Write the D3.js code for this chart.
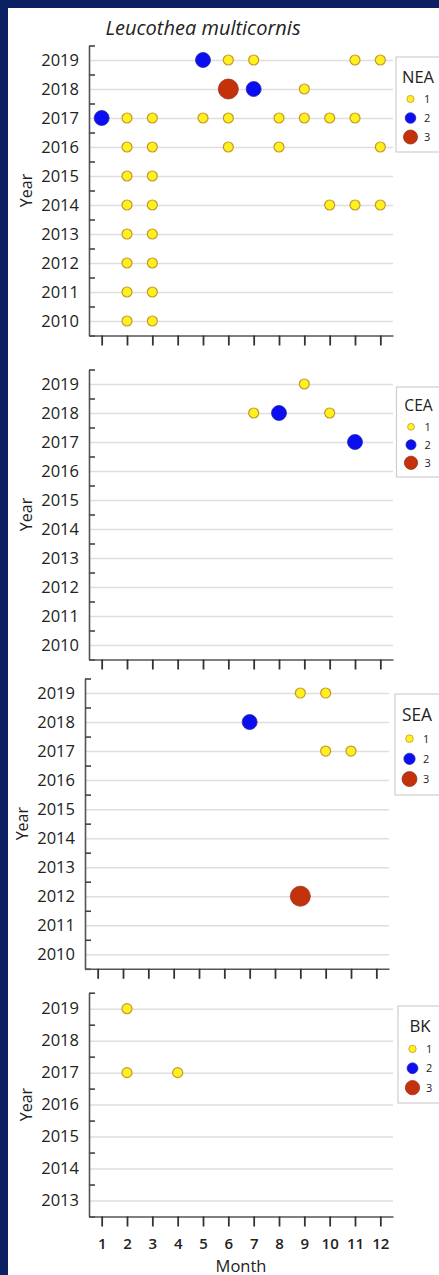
<!DOCTYPE html>
<html>
<head>
<meta charset="utf-8">
<script src="https://cdn.jsdelivr.net/npm/d3@7"></script>
<style>
  body { margin: 0; background: #0b2163; }
  svg { display: block; font-family: "Open Sans", "DejaVu Sans", sans-serif; }
</style>
</head>
<body>
<svg id="viz" width="439" height="1275"></svg>
<script>
const title = "Leucothea multicornis";
const months = [1, 2, 3, 4, 5, 6, 7, 8, 9, 10, 11, 12];
const countLevels = [1, 2, 3];
const yearsLong = [2010, 2011, 2012, 2013, 2014, 2015, 2016, 2017, 2018, 2019];
const yearsShort = [2013, 2014, 2015, 2016, 2017, 2018, 2019];

// month, year, number of records
const neaPoints = [
  [5, 2019, 2], [6, 2019, 1], [7, 2019, 1], [11, 2019, 1], [12, 2019, 1],
  [6, 2018, 3], [7, 2018, 2], [9, 2018, 1],
  [1, 2017, 2], [2, 2017, 1], [3, 2017, 1], [5, 2017, 1], [6, 2017, 1],
  [8, 2017, 1], [9, 2017, 1], [10, 2017, 1], [11, 2017, 1],
  [2, 2016, 1], [3, 2016, 1], [6, 2016, 1], [8, 2016, 1], [12, 2016, 1],
  [2, 2015, 1], [3, 2015, 1],
  [2, 2014, 1], [3, 2014, 1], [10, 2014, 1], [11, 2014, 1], [12, 2014, 1],
  [2, 2013, 1], [3, 2013, 1],
  [2, 2012, 1], [3, 2012, 1],
  [2, 2011, 1], [3, 2011, 1],
  [2, 2010, 1], [3, 2010, 1]
];
const ceaPoints = [
  [9, 2019, 1],
  [7, 2018, 1], [8, 2018, 2], [10, 2018, 1],
  [11, 2017, 2]
];
const seaPoints = [
  [9, 2019, 1], [10, 2019, 1],
  [7, 2018, 2],
  [10, 2017, 1], [11, 2017, 1],
  [9, 2012, 3]
];
const bkPoints = [
  [2, 2019, 1],
  [2, 2017, 1], [4, 2017, 1]
];

const svg = d3.select("#viz");

svg.append("rect").attr("x", 8).attr("y", 8)
  .attr("width", 431).attr("height", 1267).attr("fill", "#fff");

svg.append("text")
  .attr("x", 203).attr("y", 35)
  .attr("text-anchor", "middle")
  .attr("font-size", 20).attr("font-style", "italic")
  .attr("fill", "#222")
  .text(title);

const color = d3.scaleOrdinal().domain(countLevels).range(["#fff01e", "#0a0ef0", "#c4320c"]);
const stroke = d3.scaleOrdinal().domain(countLevels).range(["#c29a2a", "#2a2ab0", "#96301a"]);
const radius = d3.scaleLinear().domain([1, 3]).range([5, 10]);
const legendRadius = d3.scaleLinear().domain([1, 3]).range([3.6, 7]);

const panels = [
  { name: "NEA", points: neaPoints, years: yearsLong, x0: 89, x1: 393, top: 45.5, bottom: 335.5, legendY: 57, legendX: 396, legendH: 95, showMonths: false },
  { name: "CEA", points: ceaPoints, years: yearsLong, x0: 89, x1: 393, top: 369.5, bottom: 659.5, legendY: 387, legendX: 396.5, legendH: 90, showMonths: false },
  { name: "SEA", points: seaPoints, years: yearsLong, x0: 85, x1: 389, top: 678.5, bottom: 968.8, legendY: 694, legendX: 395, legendH: 101, showMonths: false },
  { name: "BK", points: bkPoints, years: yearsShort, x0: 89, x1: 393, top: 992.7, bottom: 1216.5, legendY: 1006, legendX: 398, legendH: 97, showMonths: true }
];

panels.forEach(drawPanel);

function drawPanel(p) {
  const lo = d3.min(p.years) - 0.5, hi = d3.max(p.years) + 0.5;
  const x = d3.scaleLinear().domain([0.5, 12.5]).range([p.x0, p.x1]);
  const y = d3.scaleLinear().domain([lo, hi]).range([p.bottom, p.top]);
  const g = svg.append("g");

  // gridlines + year labels
  const grid = g.append("g")
    .attr("transform", `translate(${p.x0},0)`)
    .call(d3.axisLeft(y).tickValues(p.years).tickFormat(d3.format("d"))
      .tickSizeInner(-(p.x1 - p.x0)).tickSizeOuter(0).tickPadding(10));
  grid.select(".domain").remove();
  grid.selectAll(".tick line").attr("stroke", "#dedede").attr("stroke-width", 1.5);
  grid.selectAll(".tick text").attr("font-size", 16.5).attr("fill", "#222")
    .attr("font-family", "'Open Sans', sans-serif");

  // y axis with half-year ticks
  const halfTicks = d3.range(lo, hi + 0.01, 1);
  const yAxis = g.append("g")
    .attr("transform", `translate(${p.x0},0)`)
    .call(d3.axisLeft(y).tickValues(halfTicks).tickFormat("")
      .tickSizeInner(-6).tickSizeOuter(0));
  yAxis.select(".domain").attr("stroke", "#555").attr("stroke-width", 1.6);
  yAxis.selectAll(".tick line").attr("stroke", "#444").attr("stroke-width", 1.6);

  // x axis
  const xAxis = g.append("g")
    .attr("transform", `translate(0,${p.bottom})`)
    .call(d3.axisBottom(x).tickValues(months)
      .tickFormat(p.showMonths ? d3.format("d") : "")
      .tickSizeInner(10).tickSizeOuter(0).tickPadding(12));
  xAxis.select(".domain").attr("stroke", "#555").attr("stroke-width", 1.6);
  xAxis.selectAll(".tick line").attr("stroke", "#333").attr("stroke-width", 1.8);
  xAxis.selectAll(".tick text").attr("font-size", 15).attr("font-weight", 600)
    .attr("fill", "#222").attr("font-family", "'Open Sans', sans-serif");

  g.append("text")
    .attr("transform", `translate(${p.x0 - 63},${(p.top + p.bottom) / 2}) rotate(-90)`)
    .attr("text-anchor", "middle").attr("dy", "0.35em")
    .attr("font-size", 16).attr("fill", "#222")
    .text("Year");

  if (p.showMonths) {
    g.append("text")
      .attr("x", (p.x0 + p.x1) / 2).attr("y", p.bottom + 55)
      .attr("text-anchor", "middle")
      .attr("font-size", 16.5).attr("fill", "#222")
      .text("Month");
  }

  // circles
  g.append("g").selectAll("circle")
    .data(p.points)
    .join("circle")
    .attr("cx", d => x(d[0]))
    .attr("cy", d => y(d[1]))
    .attr("r", d => radius(d[2]))
    .attr("fill", d => color(d[2]))
    .attr("stroke", d => stroke(d[2]))
    .attr("stroke-width", d => d[2] === 1 ? 1.2 : 0.8);

  // legend
  const k = p.legendH / 95;
  const lg = g.append("g").attr("transform", `translate(${p.legendX},${p.legendY})`);
  lg.append("rect").attr("width", 60).attr("height", p.legendH)
    .attr("fill", "#fff").attr("stroke", "#cfcfcf").attr("stroke-width", 1.2);
  lg.append("text")
    .attr("x", 22).attr("y", 20 * k).attr("dy", "0.35em")
    .attr("text-anchor", "middle")
    .attr("font-size", 16.5 * Math.min(k, 1.05)).attr("fill", "#222")
    .text(p.name);
  const entries = lg.selectAll(".entry")
    .data(countLevels)
    .join("g")
    .attr("transform", (d, i) => `translate(0,${(42 + 19 * i) * k})`);
  entries.append("circle")
    .attr("cx", 14.5).attr("r", d => legendRadius(d) * k)
    .attr("fill", d => color(d))
    .attr("stroke", d => stroke(d)).attr("stroke-width", 0.8);
  entries.append("text")
    .attr("x", 28).attr("dy", "0.35em")
    .attr("font-size", 11).attr("fill", "#222")
    .text(d => d);
}
</script>
</body>
</html>
